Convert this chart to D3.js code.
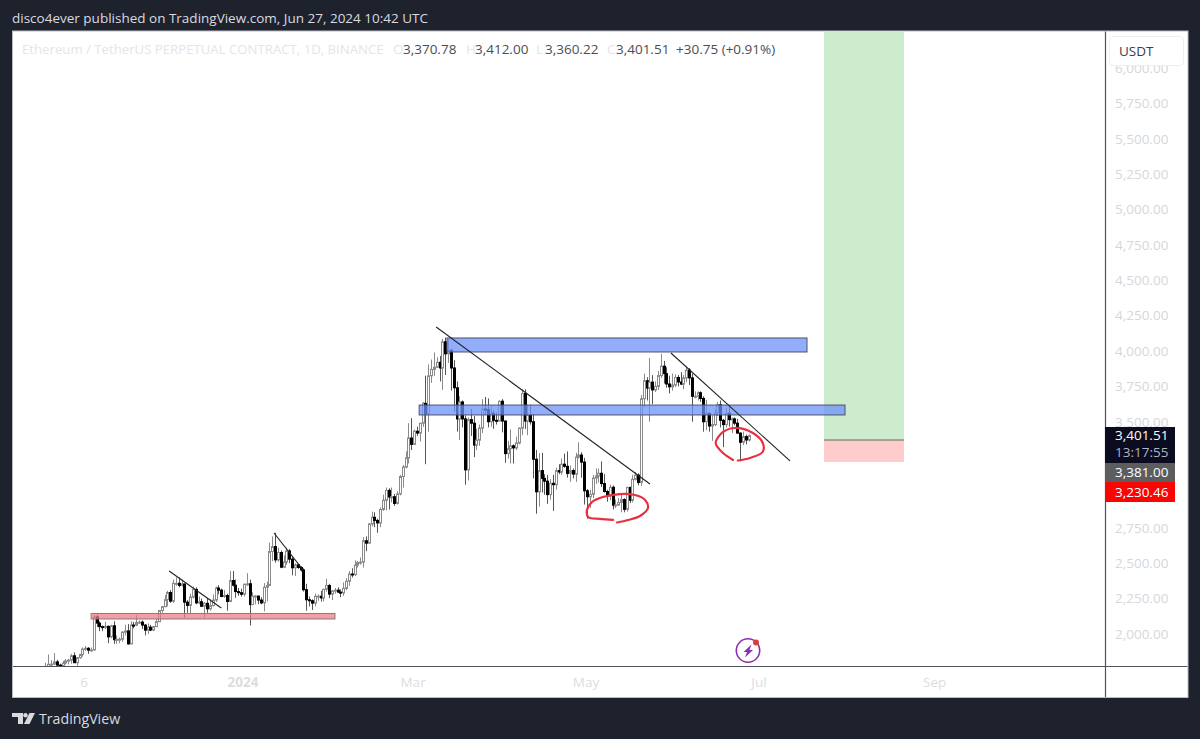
<!DOCTYPE html>
<html><head><meta charset="utf-8">
<script src="https://cdn.jsdelivr.net/npm/d3@7"></script>
<style>html,body{margin:0;padding:0;background:#1e222d;}svg{display:block;}</style>
</head><body><svg id="c" width="1200" height="739"></svg>
<script>
// Daily bars, first bar = 2023-10-23, last bar = 2024-06-27
const opens=[1664,1766,1786,1787,1803,1780,1775,1795,1810,1815,1846,1797,1833,1855,1893,1899,1886,1888,2121,2077,2052,2045,2054,1980,2058,1960,1962,1963,2013,2022,1930,2063,2062,2081,2084,2063,2027,2048,2028,2052,2087,2166,2193,2243,2293,2232,2358,2358,2344,2353,2225,2202,2261,2315,2220,2228,2196,2217,2178,2201,2240,2325,2310,2265,2272,2230,2378,2345,2300,2292,2281,2352,2355,2208,2268,2268,2240,2220,2330,2343,2583,2618,2524,2576,2472,2510,2587,2529,2468,2489,2470,2453,2313,2242,2235,2218,2267,2267,2255,2316,2343,2282,2305,2310,2296,2290,2322,2373,2424,2420,2486,2505,2508,2659,2642,2778,2825,2803,2785,2880,2945,3015,2968,2970,2923,2990,3113,3180,3245,3385,3340,3433,3420,3490,3630,3555,3825,3870,3885,3920,3880,4065,3980,4005,3880,3740,3520,3640,3520,3160,3515,3490,3335,3370,3455,3590,3585,3500,3560,3510,3505,3645,3505,3275,3310,3330,3315,3350,3455,3700,3505,3545,3500,3235,3005,3155,3100,3080,2985,3065,3055,3155,3145,3200,3185,3135,3155,3130,3250,3265,3215,3012,2970,2987,3102,3117,3136,3063,3007,2975,3037,2910,2912,2930,2950,2881,3036,2945,3093,3123,3071,3663,3790,3738,3780,3725,3750,3826,3893,3840,3767,3747,3760,3813,3781,3766,3810,3865,3810,3680,3680,3705,3665,3500,3560,3470,3480,3565,3620,3510,3480,3560,3515,3520,3490,3420,3355,3395,3371];
const highs=[1797,1855,1815,1865,1818,1790,1810,1822,1825,1860,1870,1835,1860,1905,1915,1907,1905,2135,2137,2090,2060,2085,2060,2065,2090,1990,1975,2020,2065,2070,2090,2085,2133,2095,2095,2070,2075,2065,2055,2105,2170,2195,2275,2305,2310,2385,2400,2400,2385,2358,2240,2285,2335,2330,2265,2250,2225,2255,2245,2280,2335,2345,2320,2310,2285,2445,2445,2385,2325,2320,2355,2430,2385,2295,2275,2270,2260,2360,2370,2645,2690,2715,2610,2590,2555,2610,2600,2545,2500,2495,2480,2465,2355,2265,2245,2285,2280,2305,2320,2390,2355,2310,2325,2330,2315,2365,2395,2445,2465,2520,2515,2540,2685,2690,2785,2865,2860,2815,2895,2985,3035,3030,3035,2990,3010,3125,3195,3290,3490,3525,3445,3465,3490,3640,3825,3905,3940,3990,3955,3965,4085,4095,4085,4015,3935,3785,3680,3650,3545,3530,3590,3540,3450,3480,3660,3675,3665,3610,3580,3565,3650,3660,3510,3365,3445,3340,3395,3460,3730,3730,3620,3620,3555,3300,3280,3280,3130,3125,3095,3125,3175,3200,3240,3275,3290,3190,3170,3280,3355,3285,3245,3025,3020,3125,3170,3170,3220,3130,3020,3055,3050,2950,2960,2990,2960,3040,3040,3125,3145,3135,3690,3840,3815,3950,3830,3785,3860,3980,3930,3885,3825,3840,3835,3830,3850,3830,3890,3880,3840,3715,3715,3715,3680,3655,3560,3545,3590,3640,3650,3520,3600,3620,3530,3530,3520,3425,3430,3410,3412];
const lows=[1648,1760,1765,1780,1770,1770,1770,1785,1785,1790,1795,1775,1825,1840,1880,1860,1875,1880,2050,2020,2020,2035,1935,1970,1930,1930,1935,1945,1990,1925,1930,2040,2055,2072,2035,1990,2000,2020,2020,2050,2085,2150,2190,2195,2220,2220,2340,2330,2335,2115,2150,2145,2250,2210,2210,2190,2115,2150,2165,2195,2225,2280,2260,2255,2165,2225,2335,2255,2270,2265,2265,2340,2060,2205,2210,2210,2210,2160,2230,2340,2515,2505,2510,2465,2465,2490,2500,2415,2410,2460,2440,2300,2165,2195,2170,2195,2235,2230,2230,2300,2255,2240,2285,2290,2260,2270,2310,2340,2400,2410,2470,2490,2470,2585,2640,2760,2755,2715,2755,2870,2875,2880,2930,2905,2915,2980,3035,3170,3205,3300,3335,3400,3360,3465,3200,3430,3775,3825,3885,3785,3725,3830,3915,3720,3570,3430,3370,3460,3055,3085,3400,3250,3300,3330,3420,3550,3460,3465,3450,3480,3505,3425,3210,3240,3205,3205,3300,3340,3405,3450,3405,3480,3100,2850,2900,3000,2985,2920,2950,2870,3020,3130,3125,3175,3105,3075,3100,3075,3240,3105,2915,2815,2890,2960,3060,3070,3040,3000,2935,2945,2880,2890,2905,2860,2860,2865,2925,2930,3085,3050,3045,3600,3650,3500,3625,3710,3725,3810,3770,3740,3700,3720,3745,3750,3760,3730,3780,3760,3500,3665,3650,3640,3430,3440,3430,3365,3470,3540,3460,3320,3460,3465,3420,3475,3415,3220,3335,3340,3360];
const closes=[1766,1786,1787,1803,1780,1775,1795,1810,1815,1846,1797,1833,1855,1893,1899,1886,1888,2121,2077,2052,2045,2054,1980,2058,1960,1962,1963,2013,2022,1930,2063,2062,2081,2084,2063,2027,2048,2028,2052,2087,2166,2193,2243,2293,2232,2358,2358,2344,2353,2225,2202,2261,2315,2220,2228,2196,2217,2178,2201,2240,2325,2310,2265,2272,2230,2378,2345,2300,2292,2281,2352,2355,2208,2268,2268,2240,2220,2330,2343,2583,2618,2524,2576,2472,2510,2587,2529,2468,2489,2470,2453,2313,2242,2235,2218,2267,2267,2255,2316,2343,2282,2305,2310,2296,2290,2322,2373,2424,2420,2486,2505,2508,2659,2642,2778,2825,2803,2785,2880,2945,3015,2968,2970,2923,2990,3113,3180,3245,3385,3340,3433,3420,3490,3630,3555,3825,3870,3885,3920,3880,4065,3980,4005,3880,3740,3520,3640,3520,3160,3515,3490,3335,3370,3455,3590,3585,3500,3560,3510,3505,3645,3505,3275,3310,3330,3315,3350,3455,3700,3505,3545,3500,3235,3005,3155,3100,3080,2985,3065,3055,3155,3145,3200,3185,3135,3155,3130,3250,3265,3215,3012,2970,2987,3102,3117,3136,3063,3007,2975,3037,2910,2912,2930,2950,2881,3036,2945,3093,3123,3071,3663,3790,3738,3780,3725,3750,3826,3893,3840,3767,3747,3760,3813,3781,3766,3810,3865,3810,3680,3680,3705,3665,3500,3560,3470,3480,3565,3620,3510,3480,3560,3515,3520,3490,3420,3355,3395,3371,3401.51];

const priceTicks=[2000,2250,2500,2750,3000,3250,3500,3750,4000,4250,4500,4750,5000,5250,5500,5750,6000];
const timeTickBars=[14,70,130,191,252,314];
const timeTickLabels=["6","2024","Mar","May","Jul","Sep"];

// Drawings, in [bar, price]
const blueZones=[[141.6,4092,268.6,3993],[131.8,3618,282,3548]];
const redZones=[[16.1,2145,102.1,2106]];
const trendLines=[[43.6,2445,62,2184],[80.6,2714,90.9,2452],[137.8,4170,213.2,3060],[220.6,3986,262.6,3223]];
const riskReward={barFrom:274.6,barTo:302.8,target:6400,entry:3371,stop:3216};
const circleA=[[200.2,2806],[195.6,2813],[191.4,2827],[191,2876],[192.8,2933],[196.6,2968],[202.6,2989],[207.9,2982],[211.5,2947],[212.5,2890],[209.7,2834],[205.5,2806],[201.6,2788]];
const circleB=[[242.5,3230],[239,3279],[236.4,3350],[239,3428],[243.2,3456],[249.5,3420],[253,3350],[253,3288],[248.5,3244],[244.2,3226]];

const legendTitle="Ethereum / TetherUS PERPETUAL CONTRACT, 1D, BINANCE";
const legendKeys=["O","H","L","C"];
const legendVals=["3,370.78","3,412.00","3,360.22","3,401.51"];
const legendChange="+30.75 (+0.91%)";
const tagLabels=["3,401.51","13:17:55","3,381.00","3,230.46"];
const font="'Open Sans','Noto Sans',sans-serif";

const svg=d3.select("#c");
const L=13,R=1187.5,T=31.5,B=697,AX=1105,AY=666;
svg.append("rect").attr("width",1200).attr("height",739).attr("fill","#1e222d");
svg.append("rect").attr("x",L-.5).attr("y",T-.5).attr("width",R-L+1).attr("height",B-T+1).attr("fill","#fff").attr("stroke","#b9bcc4");

const x=d3.scaleLinear().domain([191,248]).range([587,748.6]);
const y=d3.scaleLinear().domain([2000,4000]).range([634,351]);

svg.append("defs").append("clipPath").attr("id","plot").append("rect").attr("x",L).attr("y",T).attr("width",AX-L).attr("height",AY-T);
const g=svg.append("g").attr("clip-path","url(#plot)");

// risk/reward
const rrX=x(riskReward.barFrom),rrW=x(riskReward.barTo)-rrX;
g.append("rect").attr("x",rrX).attr("width",rrW).attr("y",y(riskReward.target)).attr("height",y(riskReward.entry)-y(riskReward.target)).attr("fill","#cdebcd");
g.append("rect").attr("x",rrX).attr("width",rrW).attr("y",y(riskReward.entry)).attr("height",y(riskReward.stop)-y(riskReward.entry)).attr("fill","#ffcccc");
g.append("line").attr("x1",rrX).attr("x2",rrX+rrW).attr("y1",y(riskReward.entry)).attr("y2",y(riskReward.entry)).attr("stroke","#5d6b5d").attr("stroke-width",1);

// candles
const bars=d3.range(closes.length);
const c=g.append("g").selectAll("g").data(bars).join("g");
c.append("line").attr("x1",i=>Math.round(x(i))+.5).attr("x2",i=>Math.round(x(i))+.5)
 .attr("y1",i=>y(highs[i])).attr("y2",i=>y(lows[i]))
 .attr("stroke",i=>closes[i]>=opens[i]?"#8a8a8a":"#555").attr("stroke-width",1);
c.append("rect").attr("x",i=>Math.round(x(i))-.5).attr("width",2)
 .attr("y",i=>y(Math.max(opens[i],closes[i])))
 .attr("height",i=>Math.max(1,Math.abs(y(opens[i])-y(closes[i]))))
 .attr("fill",i=>closes[i]>=opens[i]?"#fff":"#000")
 .attr("stroke",i=>closes[i]>=opens[i]?"#8a8a8a":"#000").attr("stroke-width",1);

// zones
const zone=(a,fill,stroke)=>g.selectAll(null).data(a).join("rect")
 .attr("x",d=>x(d[0])).attr("width",d=>x(d[2])-x(d[0])).attr("y",d=>y(d[1])).attr("height",d=>y(d[3])-y(d[1]))
 .attr("fill",fill).attr("stroke",stroke).attr("stroke-width",1);
zone(blueZones,"rgba(110,145,250,.75)","#4a5468");
zone(redZones,"rgba(235,120,130,.72)","#8a7a7a");

// trend lines
g.selectAll(null).data(trendLines).join("line")
 .attr("x1",d=>x(d[0])).attr("y1",d=>y(d[1])).attr("x2",d=>x(d[2])).attr("y2",d=>y(d[3]))
 .attr("stroke","#222").attr("stroke-width",1.1);

// hand-drawn circles
const pen=d3.line().x(d=>x(d[0])).y(d=>y(d[1])).curve(d3.curveCatmullRom);
[circleA,circleB].forEach(p=>g.append("path").attr("d",pen(p)).attr("fill","none").attr("stroke","#e8303f").attr("stroke-width",2.2).attr("stroke-linecap","round"));

// axes lines
svg.append("line").attr("x1",L).attr("x2",R).attr("y1",AY+.5).attr("y2",AY+.5).attr("stroke","#50535e").attr("stroke-width",1.2);
svg.append("line").attr("x1",AX+.5).attr("x2",AX+.5).attr("y1",T).attr("y2",B).attr("stroke","#50535e").attr("stroke-width",1.2);

// price axis
const fmt=d3.format(",.2f");
const yAxis=d3.axisRight(y).tickValues(priceTicks).tickFormat(fmt).tickSize(0).tickPadding(0);
const ga=svg.append("g").attr("transform",`translate(${AX+10},0)`).call(yAxis);
ga.select(".domain").remove();
ga.selectAll("text").attr("fill","#d6d7da").attr("font-family",font).attr("font-size",13.5);

// time axis
const xAxis=d3.axisBottom(x).tickValues(timeTickBars).tickFormat((d,i)=>timeTickLabels[i]).tickSize(0).tickPadding(0);
const gx=svg.append("g").attr("transform",`translate(-1.5,${AY+11})`).call(xAxis);
gx.select(".domain").remove();
gx.selectAll("text").attr("fill","#dcdde0").attr("font-family",font).attr("font-size",13.5).attr("font-weight",(d,i)=>i==1?700:400);

// currency button
svg.append("rect").attr("x",1109.5).attr("y",36.5).attr("width",74).attr("height",29).attr("rx",4).attr("fill","#fff").attr("stroke","#eceef2");
svg.append("text").attr("x",1119).attr("y",56).attr("font-family",font).attr("font-size",13.5).attr("fill","#3a3e48").text("USDT");

// last-price labels
const tags=[{y:427,h:36,f:"#0c0c20"},{y:463,h:19,f:"#5d5d5f"},{y:482,h:20,f:"#fb0404"}];
svg.selectAll(null).data(tags).join("rect").attr("x",AX).attr("y",d=>d.y).attr("width",70).attr("height",d=>d.h).attr("fill",d=>d.f);
const tagPos=[[440,"#fff"],[457,"#b2b5be"],[477,"#fff"],[497,"#fff"]];
svg.selectAll(null).data(tagLabels).join("text").attr("x",1115).attr("y",(d,i)=>tagPos[i][0]).attr("fill",(d,i)=>tagPos[i][1]).attr("font-family",font).attr("font-size",13.5).text(d=>d);

// header
svg.append("text").attr("x",12).attr("y",23).attr("font-family",font).attr("font-size",13.5).attr("fill","#d8dae0").text("disco4ever published on TradingView.com, Jun 27, 2024 10:42 UTC");

// legend
svg.append("text").attr("x",22).attr("y",54).attr("font-family",font).attr("font-size",13.2).attr("fill","#e4e5e8").text(legendTitle);
const keyX=[393,466,536,607],valX=[403,475,545,616];
legendKeys.forEach((k,i)=>{
  svg.append("text").attr("x",keyX[i]).attr("y",54).attr("font-family",font).attr("font-size",13.5).attr("fill","#e4e5e8").text(k);
  svg.append("text").attr("x",valX[i]).attr("y",54).attr("font-family",font).attr("font-size",13.5).attr("fill","#4a4d55").text(legendVals[i]);
});
svg.append("text").attr("x",676).attr("y",54).attr("font-family",font).attr("font-size",13.5).attr("fill","#4a4d55").text(legendChange);

// footer logo
const lo=svg.append("g").attr("fill","#d8dae0").attr("transform","translate(12,713)");
lo.append("path").attr("d","M0 0H11V11H6V4H0Z");
lo.append("circle").attr("cx",13.5).attr("cy",2.2).attr("r",2.2);
lo.append("path").attr("d","M17.5 0H23L17.5 11H12Z");
svg.append("text").attr("x",39).attr("y",724).attr("font-family",font).attr("font-size",14.2).attr("fill","#d8dae0").text("TradingView");

// bolt icon
const ic=svg.append("g").attr("transform","translate(748,650.5)");
ic.append("circle").attr("r",11.7).attr("fill","none").attr("stroke","#8e2fb0").attr("stroke-width",1.6);
ic.append("path").attr("d","M3.5-6L-4.5 1.5H-1L-3 7L5-.5H1.5Z").attr("fill","#8e2fb0");
ic.append("circle").attr("cx",8).attr("cy",-8).attr("r",3).attr("fill","#e03b3b");
</script></body></html>
